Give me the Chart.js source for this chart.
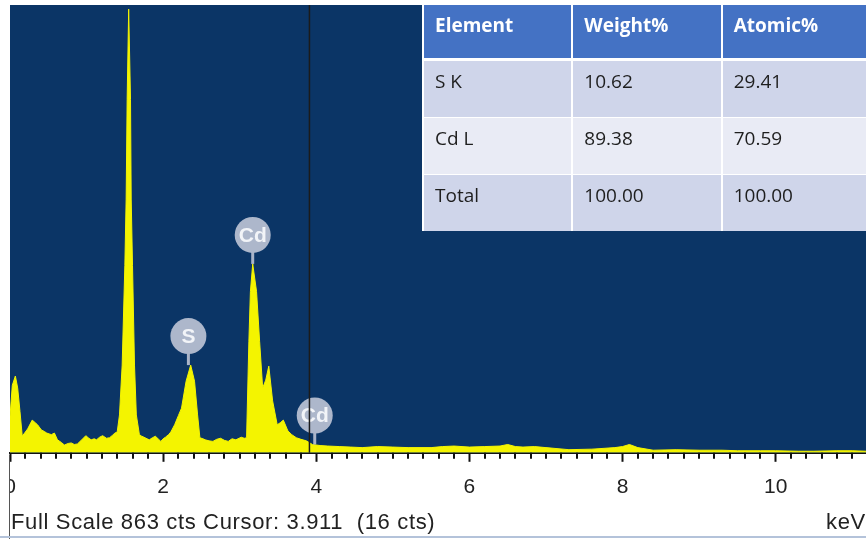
<!DOCTYPE html>
<html>
<head>
<meta charset="utf-8">
<script src="https://cdn.jsdelivr.net/npm/chart.js@4.4.0/dist/chart.umd.min.js"></script>
<style>
  body { margin: 0; background: #fff; overflow: hidden; }
  #wrap { position: relative; width: 866px; height: 539px; overflow: hidden; }
  #eds { position: absolute; left: 0; top: 0; }
  table.res { position: absolute; left: 422px; top: 5px; width: 450px; border-collapse: collapse;
    table-layout: fixed; font-family: 'Open Sans', sans-serif; font-size: 19px; }
  table.res th, table.res td { text-align: left; vertical-align: top; padding: 7px 0 0 11px;
    border-left: 2px solid #fff; border-right: 2px solid #fff; }
  table.res th { background: #4472c4; color: #fff; font-weight: bold; height: 46px; border-bottom: 3px solid #fff; }
  table.res td { color: #1e1e1e; height: 49px; border-top: 1px solid #fff; }
  table.res tr.odd td { background: #cfd5ea; }
  table.res tr.even td { background: #e9ebf5; }
  .foot { position: absolute; top: 509px; font-family: 'Liberation Sans', Arial, sans-serif; font-size: 22px;
    letter-spacing: 0.65px; color: #222; }
  #edge { position: absolute; left: 9px; top: 455px; width: 1px; height: 84px; background: #555; }
  #bottomline { position: absolute; left: 0; top: 536px; width: 866px; height: 2px; background: #b4c3da; }
</style>
</head>
<body>
<div id="wrap">
  <canvas id="eds" width="866" height="539"></canvas>
  <table class="res">
    <tr><th>Element</th><th>Weight%</th><th>Atomic%</th></tr>
    <tr class="odd"><td>S K</td><td>10.62</td><td>29.41</td></tr>
    <tr class="even"><td>Cd L</td><td>89.38</td><td>70.59</td></tr>
    <tr class="odd"><td>Total</td><td>100.00</td><td>100.00</td></tr>
  </table>
  <div class="foot" style="left:11px">Full Scale 863 cts Cursor: 3.911&nbsp; (16 cts)</div>
  <div class="foot" style="left:826px">keV</div>
  <div id="edge"></div>
  <div id="bottomline"></div>
</div>
<script>
// spectrum (keV, counts)
var energy = [0.00, 0.03, 0.07, 0.10, 0.13, 0.16, 0.20, 0.23, 0.29, 0.33, 0.36, 0.41, 0.45, 0.48, 0.54, 0.58, 0.62,
  0.67, 0.71, 0.76, 0.80, 0.84, 0.88, 0.93, 0.99, 1.03, 1.06, 1.10, 1.13, 1.17, 1.21, 1.26, 1.30, 1.34, 1.37,
  1.40, 1.43, 1.465, 1.50, 1.517, 1.53, 1.55, 1.574, 1.583, 1.60, 1.626, 1.65, 1.69, 1.72, 1.75, 1.79, 1.82,
  1.86, 1.90, 1.94, 1.97, 2.00, 2.03, 2.07, 2.10, 2.15, 2.20, 2.24, 2.30, 2.36, 2.41, 2.45, 2.48, 2.52, 2.55,
  2.60, 2.65, 2.70, 2.75, 2.80, 2.85, 2.90, 2.95, 3.02, 3.06, 3.09, 3.12, 3.14, 3.17, 3.22, 3.26, 3.30, 3.34,
  3.38, 3.43, 3.49, 3.53, 3.57, 3.63, 3.68, 3.74, 3.80, 3.87, 3.95, 4.05, 4.15, 4.30, 4.45, 4.60, 4.80, 5.00,
  5.20, 5.50, 5.65, 5.80, 6.00, 6.20, 6.40, 6.50, 6.60, 6.70, 6.85, 7.00, 7.30, 7.60, 7.90, 8.00, 8.09, 8.20,
  8.40, 8.70, 9.00, 9.30, 9.50, 9.80, 10.00, 10.30, 10.50, 10.80, 11.00, 11.18];
var counts = [70, 130, 148, 125, 80, 32, 40, 46, 63, 58, 54, 44, 41, 38, 35, 38, 25,
  20, 15, 18, 19, 16, 17, 24, 33, 28, 25, 27, 25, 30, 33, 28, 29, 34, 38,
  40, 73, 169, 361, 489, 681, 855, 681, 489, 361, 169, 73, 35, 32, 30, 27, 25,
  29, 32, 26, 22, 27, 30, 35, 40, 54, 72, 86, 138, 169, 138, 73, 29, 27, 25,
  23, 22, 26, 28, 24, 22, 27, 25, 30, 28, 29, 215, 311, 364, 311, 215, 125, 140,
  167, 100, 54, 58, 63, 42, 35, 29, 26, 23, 16, 14, 13, 12, 11, 10, 12, 11,
  10, 10, 12, 13, 11, 12, 13, 16, 12, 11, 12, 10, 6, 7, 10, 12, 16, 10,
  5, 6, 5, 5, 4, 4, 4, 3, 3, 4, 4, 3];

var xTicks = [0, 2, 4, 6, 8, 10];
var minorStep = 0.2;
var xMax = 11.18;
var fullScale = 863;
var cursorKeV = 3.911;

// peak labels
var peakNames = ['S', 'Cd', 'Cd'];
var peakKeV = [2.33, 3.17, 3.98];
var peakCts = [169, 364, 16];

var points = energy.map(function (e, i) { return { x: e, y: counts[i] }; });

var edsPlugin = {
  id: 'eds',
  beforeDatasetsDraw: function (chart) {
    var a = chart.chartArea, c = chart.ctx;
    c.save();
    c.fillStyle = '#0b3566';
    c.fillRect(a.left, a.top, a.right - a.left, a.bottom - a.top);
    c.restore();
  },
  afterDatasetsDraw: function (chart) {
    var c = chart.ctx, xs = chart.scales.x, ys = chart.scales.y, a = chart.chartArea;
    c.save();
    for (var i = 0; i < peakNames.length; i++) {
      var px = xs.getPixelForValue(peakKeV[i]);
      var py = ys.getPixelForValue(peakCts[i]);
      var cy = py - 29;
      c.strokeStyle = '#aab4c8';
      c.lineWidth = 3;
      c.beginPath(); c.moveTo(px, cy + 14); c.lineTo(px, py); c.stroke();
      c.fillStyle = '#adb7cb';
      c.beginPath(); c.arc(px, cy, 18, 0, Math.PI * 2); c.fill();
      c.fillStyle = '#f2f4f8';
      c.font = 'bold 21px "Liberation Sans", Arial, sans-serif';
      c.textAlign = 'center';
      c.textBaseline = 'middle';
      c.fillText(peakNames[i], px, cy + 1);
    }
    var cx = xs.getPixelForValue(cursorKeV);
    c.strokeStyle = '#1b1b1b';
    c.lineWidth = 1.5;
    c.beginPath(); c.moveTo(cx, a.top); c.lineTo(cx, a.bottom); c.stroke();
    c.restore();
  },
  afterDraw: function (chart) {
    var c = chart.ctx, xs = chart.scales.x, a = chart.chartArea;
    c.save();
    // short ticks every 0.2 keV
    c.strokeStyle = '#111';
    c.lineWidth = 2;
    for (var k = 1; k * minorStep < xs.max; k++) {
      if (k % 10 === 0) continue;
      var tx = Math.round(xs.getPixelForValue(k * minorStep));
      c.beginPath(); c.moveTo(tx, a.bottom); c.lineTo(tx, a.bottom + 6); c.stroke();
    }
    // the picture is cut at the left edge, hiding half of the "0"
    c.fillStyle = '#fff';
    c.fillRect(0, a.bottom + 1, 9, 100);
    c.restore();
  }
};

var chart = new Chart(document.getElementById('eds').getContext('2d'), {
  type: 'line',
  data: {
    datasets: [{
      data: points,
      fill: 'origin',
      backgroundColor: '#f4f400',
      borderColor: '#f4f400',
      borderWidth: 1,
      pointRadius: 0,
      tension: 0
    }]
  },
  options: {
    responsive: false,
    animation: false,
    layout: { padding: { left: 10, top: 5, right: 0, bottom: 26 } },
    plugins: { legend: { display: false }, tooltip: { enabled: false } },
    scales: {
      y: { display: false, min: 0, max: fullScale },
      x: {
        type: 'linear', min: 0, max: xMax,
        afterBuildTicks: function (s) { s.ticks = xTicks.map(function (v) { return { value: v }; }); },
        afterFit: function (s) { s.paddingLeft = 0; s.paddingRight = 0; },
        ticks: { autoSkip: false, maxRotation: 0, padding: 13, color: '#222',
          font: { family: '"Liberation Sans", Arial, sans-serif', size: 21 } },
        grid: { drawOnChartArea: false, tickLength: 9, tickColor: '#111', tickWidth: 2 },
        border: { color: '#111', width: 2 }
      }
    }
  },
  plugins: [edsPlugin]
});
</script>
</body>
</html>
